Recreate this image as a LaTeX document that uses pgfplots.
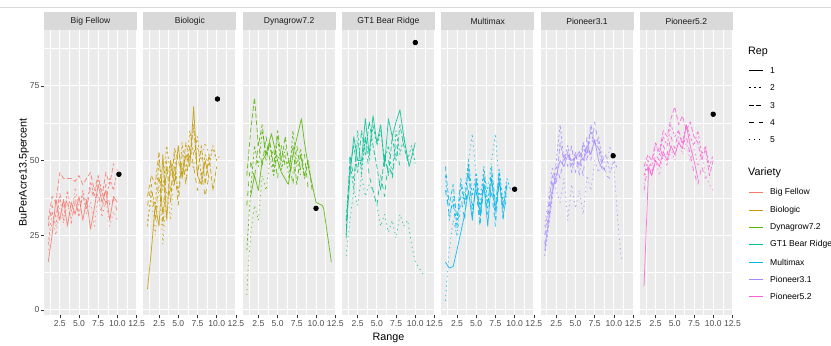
\documentclass[border=0pt]{standalone}
\usepackage{fontspec}
\setmainfont{Liberation Sans}
\usepackage{pgfplots}
\pgfplotsset{compat=1.18}
\definecolor{c1}{HTML}{F8766D}
\definecolor{c2}{HTML}{C49A00}
\definecolor{c3}{HTML}{53B400}
\definecolor{c4}{HTML}{00C094}
\definecolor{c5}{HTML}{00B6EB}
\definecolor{c6}{HTML}{A58AFF}
\definecolor{c7}{HTML}{FB61D7}
\definecolor{gbg}{HTML}{EBEBEB}
\definecolor{gstrip}{HTML}{D9D9D9}
\definecolor{gtext}{HTML}{4D4D4D}
\definecolor{gdark}{HTML}{1A1A1A}
\definecolor{gtick}{HTML}{333333}
\tikzset{
 rep1/.style={solid},
 rep2/.style={dash pattern=on 2.4bp off 2.4bp},
 rep3/.style={dash pattern=on 4.8bp off 2.4bp},
 rep4/.style={dash pattern=on 4.8bp off 4.8bp},
 rep5/.style={dash pattern=on 1.2bp off 3.6bp},
}
\newcommand{\smallfont}{\fontsize{8.6}{9}\selectfont}
\newcommand{\titlefont}{\fontsize{10.8}{12}\selectfont}
\pgfplotsset{
 facet/.style={
  scale only axis, width=93bp, height=285bp, anchor=south west,
  xmin=0.45, xmax=12.55, ymin=-1.7, ymax=93.7,
  axis background/.style={fill=gbg},
  axis line style={draw=none},
  xtick={2.5,5,7.5,10,12.5}, xticklabels={2.5,5.0,7.5,10.0,12.5},
  minor xtick={1.25,3.75,6.25,8.75,11.25},
  ytick={0,25,50,75}, minor ytick={12.5,37.5,62.5,87.5},
  grid=both,
  major grid style={white, line width=0.9bp},
  minor grid style={white, line width=0.45bp},
  tick align=outside, major tick length=3bp, minor tick length=0pt,
  xtick pos=left, ytick pos=left,
  tick style={gtick, line width=0.5bp},
  xticklabel style={font=\smallfont, text=gtext, inner sep=0pt, yshift=-2.5bp},
  yticklabel style={font=\smallfont, text=gtext, inner sep=0pt, xshift=-1.5bp},
  every axis plot/.append style={line width=0.75bp, line join=round, opacity=0.85},
 },
 inner/.style={yticklabels={}, ytick style={draw=none}},
}
\begin{document}
\begin{tikzpicture}[x=1bp,y=1bp]
\draw[gray!30, line width=0.5bp] (0,338) -- (831,338);
% Big Fellow
\begin{axis}[facet, at={(44bp,30bp)}, yticklabels={0,25,50,75}]
\addplot[c1, rep1] coordinates {(1,16) (1.5,25) (2,37) (2.5,30) (3,37) (3.5,28) (4,36) (4.5,32) (5,38) (5.5,30) (6,37) (6.5,27) (7,34) (7.5,42) (8,36) (8.5,40) (9,30) (9.5,38) (10,36)};
\addplot[c1, rep2] coordinates {(1,22) (1.5,33) (2,28) (2.5,38) (3,30) (3.5,40) (4,33) (4.5,38) (5,31) (5.5,40) (6,35) (6.5,43) (7,38) (7.5,44) (8,40) (8.5,35) (9,44) (9.5,40) (10,47)};
\addplot[c1, rep3] coordinates {(1,30) (1.5,38) (2,36) (2.5,46) (3,44) (4,44) (4.5,43) (5,45) (5.5,42) (6,44) (6.5,46) (7,40) (7.5,45) (8,38) (8.5,46) (9,42) (9.5,49)};
\addplot[c1, rep4] coordinates {(1,28) (1.5,35) (2,31) (2.5,39) (3,34) (3.5,37) (4,29) (4.5,36) (5,33) (5.5,38) (6,34) (6.5,41) (7,37) (7.5,39) (8,33) (8.5,42) (9,35) (9.5,37) (10,33)};
\addplot[c1, rep5] coordinates {(1,20) (1.5,30) (2,25) (2.5,34) (3,29) (3.5,36) (4,30) (4.5,41) (5,35) (5.5,39) (6,32) (6.5,36) (7,28) (7.5,38) (8,31) (8.5,37) (9,28) (9.5,33) (10,30)};
\addplot[only marks, mark=*, mark size=2.3bp, black, opacity=1] coordinates {(10.2,45.4)};
\end{axis}
% Biologic
\begin{axis}[facet, inner, at={(143.3bp,30bp)}]
\addplot[c2, rep1] coordinates {(1,7) (1.5,20) (2,35) (2.5,28) (3,52) (3.5,30) (4,50) (4.5,42) (5,55) (5.5,44) (6,52) (6.5,48) (7,68) (7.5,45) (8,42) (8.5,50) (9,44)};
\addplot[c2, rep2] coordinates {(1,28) (1.5,40) (2,35) (2.5,50) (3,40) (3.5,55) (4,45) (4.5,52) (5,38) (5.5,56) (6,46) (6.5,60) (7,52) (7.5,58) (8,44) (8.5,52) (9,48) (9.5,55) (10,50)};
\addplot[c2, rep3] coordinates {(1,38) (1.5,45) (2,42) (2.5,53) (3,28) (3.5,48) (4,36) (4.5,54) (5,50) (5.5,45) (6,56) (6.5,50) (7,62) (7.5,45) (8,55) (8.5,42) (9,52) (9.5,40) (10,48)};
\addplot[c2, rep4] coordinates {(1,35) (1.5,42) (2,30) (2.5,45) (3,32) (3.5,50) (4,40) (4.5,48) (5,35) (5.5,52) (6,42) (6.5,55) (7,48) (7.5,40) (8,46) (8.5,38) (9,45)};
\addplot[c2, rep5] coordinates {(1,30) (1.5,38) (2,25) (2.5,42) (3,22) (3.5,40) (4,30) (4.5,46) (5,40) (5.5,48) (6,43) (6.5,52) (7,47) (7.5,54) (8,50) (8.5,56) (9,52) (9.5,54) (10,50) (10.5,52)};
\addplot[only marks, mark=*, mark size=2.3bp, black, opacity=1] coordinates {(10.1,70.6)};
\end{axis}
% Dynagrow7.2
\begin{axis}[facet, inner, at={(242.6bp,30bp)}]
\addplot[c3, rep1] coordinates {(1.5,38) (2,45) (2.5,40) (3,50) (3.5,52) (4.2,59) (5,50) (5.5,46) (6.4,42) (7,52) (8.1,64) (8.5,56) (9,48) (10,36) (10.8,35) (11,34) (12,16)};
\addplot[c3, rep2] coordinates {(1,20) (1.5,40) (2,55) (2.5,48) (3,60) (3.5,52) (4,56) (4.5,45) (5,58) (5.5,47) (6,52) (6.5,44) (7,60) (7.5,48) (8,54) (8.5,45) (9,50)};
\addplot[c3, rep3] coordinates {(1,45) (1.5,60) (2,71) (2.5,55) (3,62) (3.5,50) (4,56) (4.5,48) (5,60) (5.5,50) (6,58) (6.5,48) (7,55) (7.5,42) (8,52) (8.5,44) (9,50) (9.5,40)};
\addplot[c3, rep4] coordinates {(1,35) (1.5,50) (2,44) (2.5,56) (3,48) (3.5,58) (4,50) (4.5,54) (5,44) (5.5,55) (6,48) (6.5,50) (7,42) (7.5,55) (8,47) (8.5,52) (9,40)};
\addplot[c3, rep5] coordinates {(1,5) (1.2,15) (1.5,25) (2,35) (2.5,30) (3,45) (3.5,40) (4,50) (4.5,45) (5,52) (5.5,48) (6,54) (6.5,50) (7,46) (7.5,52) (8,45)};
\addplot[only marks, mark=*, mark size=2.3bp, black, opacity=1] coordinates {(10,34)};
\end{axis}
% GT1 Bear Ridge
\begin{axis}[facet, inner, at={(341.9bp,30bp)}]
\addplot[c4, rep1] coordinates {(1,25) (1.5,45) (2,58) (2.5,50) (3,50) (3.5,64) (4,52) (4.5,65) (5,56) (5.5,62) (6,48) (6.5,64) (7,58) (7.5,63) (8,67) (8.5,58) (9.2,48) (10,56)};
\addplot[c4, rep2] coordinates {(1,28) (1.5,50) (2,40) (2.5,60) (3,45) (3.5,58) (4,50) (4.5,62) (5,55) (5.5,60) (6,50) (6.5,55) (7,45) (7.5,60) (8,52) (8.5,58) (9,50) (9.5,55) (10,49)};
\addplot[c4, rep3] coordinates {(1,30) (1.5,48) (2,55) (2.5,46) (3,60) (3.5,52) (4,63) (4.5,55) (5,48) (5.5,40) (6,52) (6.5,45) (7,58) (7.5,50) (8,62) (8.5,55) (9,50)};
\addplot[c4, rep4] coordinates {(1,24) (1.5,52) (2,44) (2.5,56) (3,48) (3.5,58) (4,45) (4.5,40) (5,35) (5.5,45) (6,38) (6.5,50) (7,44) (7.5,55) (8,48)};
\addplot[c4, rep5] coordinates {(1,18) (1.5,30) (2,40) (2.5,35) (3,45) (3.5,38) (4,42) (4.5,40) (5,35) (5.5,28) (6,32) (6.5,26) (7,30) (7.5,24) (8,32) (8.5,28) (9,30) (9.5,22) (10,16) (10.5,14) (11,12)};
\addplot[only marks, mark=*, mark size=2.3bp, black, opacity=1] coordinates {(10,89.5)};
\end{axis}
% Multimax
\begin{axis}[facet, inner, at={(441.2bp,30bp)}]
\addplot[c5, rep1] coordinates {(1,16) (1.5,14) (2,14.5) (2.5,20) (3,26) (3.5,32) (4,40) (4.5,30) (5,44) (5.5,32) (6,42) (6.5,28) (7,44) (7.5,33) (8,43) (8.5,34) (9,42)};
\addplot[c5, rep2] coordinates {(1,45) (1.5,30) (2,38) (2.5,28) (3,42) (3.5,35) (4,50) (4.5,38) (5,46) (5.5,34) (6,48) (6.5,36) (7,45) (7.5,30) (8,47) (8.5,36) (9,44) (9.5,40)};
\addplot[c5, rep3] coordinates {(1,48) (1.5,35) (2,42) (2.5,30) (3,44) (3.5,36) (4,48) (4.5,32) (5,42) (5.5,30) (6,45) (6.5,34) (7,48) (7.5,35) (8,46) (8.5,30) (9,42)};
\addplot[c5, rep4] coordinates {(1,40) (1.5,32) (2,36) (2.5,25) (3,38) (3.5,30) (4,46) (4.5,35) (5,40) (5.5,28) (6,42) (6.5,32) (7,40) (7.5,28) (8,44) (8.5,32) (9,38)};
\addplot[c5, rep5] coordinates {(1,3) (1.2,10) (1.5,20) (2,30) (2.5,25) (3,35) (3.5,40) (4,50) (4.5,59) (5,45) (5.5,38) (6,46) (6.5,40) (7,50) (7.5,59) (8,42) (8.5,36)};
\addplot[only marks, mark=*, mark size=2.3bp, black, opacity=1] coordinates {(10,40.4)};
\end{axis}
% Pioneer3.1
\begin{axis}[facet, inner, at={(540.5bp,30bp)}]
\addplot[c6, rep1] coordinates {(1,20) (1.5,30) (2,40) (2.5,45) (3,50) (3.5,48) (4,52) (4.5,50) (5,51) (5.5,53) (6,50) (6.5,55) (7,52) (7.5,57) (8,50) (8.5,47)};
\addplot[c6, rep2] coordinates {(1,18) (1.5,28) (2,38) (2.5,50) (3,62) (3.5,50) (4,55) (4.5,48) (5,53) (5.5,45) (6,55) (6.5,50) (7,60) (7.5,55) (8,58) (8.5,50) (9,52) (9.5,46) (10,50) (10.5,47)};
\addplot[c6, rep3] coordinates {(1,25) (1.5,35) (2,45) (2.5,42) (3,56) (3.5,50) (4,53) (4.5,46) (5,52) (5.5,48) (6,56) (6.5,52) (7,62) (7.5,56) (8,54) (8.5,48) (9,46)};
\addplot[c6, rep4] coordinates {(1,22) (1.5,33) (2,42) (2.5,48) (3,44) (3.5,52) (4,48) (4.5,55) (5,46) (5.5,52) (6,45) (6.5,58) (7,50) (7.5,63) (8,55) (8.5,50) (9,45) (9.5,44)};
\addplot[c6, rep5] coordinates {(1,28) (1.5,38) (2,48) (2.5,40) (3,36) (3.5,44) (4,30) (4.5,42) (5,34) (5.5,40) (6,32) (6.5,45) (7,40) (7.5,50) (8,46) (8.5,52) (9,48) (9.5,55) (10,48) (10.5,30) (11,16)};
\addplot[only marks, mark=*, mark size=2.3bp, black, opacity=1] coordinates {(9.9,51.6)};
\end{axis}
% Pioneer5.2
\begin{axis}[facet, inner, at={(639.8bp,30bp)}]
\addplot[c7, rep1] coordinates {(1,8) (1.6,48) (2,45) (2.5,50) (3,48) (3.5,53) (4,50) (4.5,55) (5,52) (5.5,56) (6,54) (6.5,62) (7,55) (7.5,50) (8,44)};
\addplot[c7, rep2] coordinates {(1,45) (1.5,50) (2,48) (2.5,55) (3,52) (3.5,58) (4,55) (4.5,62) (5,58) (5.5,60) (6,56) (6.5,62) (7,58) (7.5,55) (8,60) (8.5,52) (9,55) (9.5,48) (10,52)};
\addplot[c7, rep3] coordinates {(1,48) (1.5,52) (2,50) (2.5,56) (3,53) (3.5,60) (4,58) (4.5,64) (5,68) (5.5,62) (6,65) (6.5,60) (7,63) (7.5,58) (8,56) (8.5,50) (9,54) (9.5,45) (10,50)};
\addplot[c7, rep4] coordinates {(1,40) (1.5,48) (2,45) (2.5,52) (3,50) (3.5,55) (4,52) (4.5,58) (5,54) (5.5,60) (6,55) (6.5,58) (7,52) (7.5,46) (8,42) (8.5,48) (9,44)};
\addplot[c7, rep5] coordinates {(1,42) (1.5,50) (2,46) (2.5,50) (3,45) (3.5,52) (4,48) (4.5,54) (5,50) (5.5,58) (6,52) (6.5,56) (7,50) (7.5,54) (8,48) (8.5,52) (9,45) (9.5,42) (10,40)};
\addplot[only marks, mark=*, mark size=2.3bp, black, opacity=1] coordinates {(10,65.5)};
\end{axis}
% strips
\foreach \L/\name in {44/Big Fellow, 143.3/Biologic, 242.6/Dynagrow7.2, 341.9/GT1 Bear Ridge, 441.2/Multimax, 540.5/Pioneer3.1, 639.8/Pioneer5.2}{
 \fill[gstrip] (\L,315) rectangle ++(93,18);
 \node[font=\smallfont, text=gdark, inner sep=0pt] at (\L+46.5,324) {\name};
}
% axis titles
\node[font=\titlefont, text=black, rotate=90, inner sep=0pt] at (24,172.5) {BuPerAcre13.5percent};
\node[font=\titlefont, text=black, inner sep=0pt] at (388.4,7.5) {Range};
% legend
\node[font=\titlefont, anchor=west, inner sep=0pt] at (748,293) {Rep};
\foreach \i/\y in {1/274.5, 2/257.5, 3/239.5, 4/222.5, 5/205.5}{
 \draw[black, line width=0.9bp, rep\i] (749,\y) -- (763,\y);
 \node[font=\smallfont, anchor=west, inner sep=0pt] at (770,\y) {\i};
}
\node[font=\titlefont, anchor=west, inner sep=0pt] at (748,172) {Variety};
\draw[c1, line width=1bp] (749,152.5) -- (763,152.5);
\node[font=\smallfont, anchor=west, inner sep=0pt] at (770,152.5) {Big Fellow};
\draw[c2, line width=1bp] (749,134.5) -- (763,134.5);
\node[font=\smallfont, anchor=west, inner sep=0pt] at (770,134.5) {Biologic};
\draw[c3, line width=1bp] (749,117.5) -- (763,117.5);
\node[font=\smallfont, anchor=west, inner sep=0pt] at (770,117.5) {Dynagrow7.2};
\draw[c4, line width=1bp] (749,100.5) -- (763,100.5);
\node[font=\smallfont, anchor=west, inner sep=0pt] at (770,100.5) {GT1 Bear Ridge};
\draw[c5, line width=1bp] (749,82.5) -- (763,82.5);
\node[font=\smallfont, anchor=west, inner sep=0pt] at (770,82.5) {Multimax};
\draw[c6, line width=1bp] (749,65.5) -- (763,65.5);
\node[font=\smallfont, anchor=west, inner sep=0pt] at (770,65.5) {Pioneer3.1};
\draw[c7, line width=1bp] (749,48.5) -- (763,48.5);
\node[font=\smallfont, anchor=west, inner sep=0pt] at (770,48.5) {Pioneer5.2};
\pgfresetboundingbox
\useasboundingbox (0,0) rectangle (831,345);
\end{tikzpicture}
\end{document}
